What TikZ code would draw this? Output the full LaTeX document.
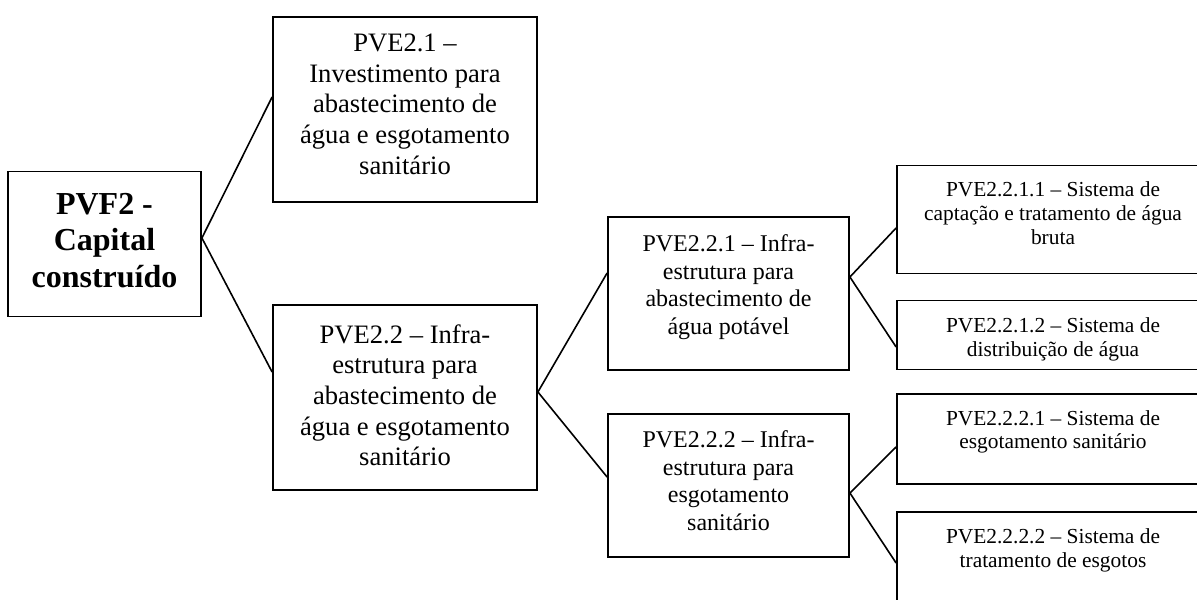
\documentclass[tikz,border=0pt]{standalone}
\usepackage{fontspec}
\setmainfont{Liberation Serif}
\usetikzlibrary{positioning}

\begin{document}
\begin{tikzpicture}[x=0.5pt, y=-0.5pt,
	box/.style={draw, line width=0.9pt, inner sep=0pt},
	txt/.style={align=center, anchor=north, inner sep=0pt},
	link/.style={line width=0.8pt}]

	\useasboundingbox (0,0) rectangle (1197,599);

	% boxes
	\node[box, minimum width=96.5pt, minimum height=72.5pt] (pvf2) at (104.5,244) {};
	\node[box, minimum width=132pt, minimum height=92.5pt] (pve21) at (405,109.5) {};
	\node[box, minimum width=132pt, minimum height=92.5pt] (pve22) at (405,397.5) {};
	\node[box, minimum width=120.5pt, minimum height=76.5pt] (pve221) at (728.5,293.5) {};
	\node[box, minimum width=120.5pt, minimum height=71.5pt] (pve222) at (728.5,485.5) {};
	\node[box, minimum width=156pt, minimum height=54pt] (pve2211) at (1053,219.5) {};
	\node[box, minimum width=156pt, minimum height=34.5pt] (pve2212) at (1053,335) {};
	\node[box, minimum width=156pt, minimum height=45pt] (pve2221) at (1053,439) {};
	\node[box, minimum width=156pt, minimum height=48pt] (pve2222) at (1053,560) {};

	% texts
	\node[txt, font=\fontsize{16}{18.4}\selectfont\bfseries] at ([yshift=-11pt]pvf2.north) {PVF2 -\\Capital\\construído};
	\node[txt, font=\fontsize{13.3}{15.3}\selectfont] at ([yshift=-8.8pt]pve21.north) {PVE2.1 –\\Investimento para\\abastecimento de\\água e esgotamento\\sanitário};
	\node[txt, font=\fontsize{13.3}{15.3}\selectfont] at ([yshift=-10pt]pve22.north) {PVE2.2 – Infra-\\estrutura para\\abastecimento de\\água e esgotamento\\sanitário};
	\node[txt, font=\fontsize{12}{13.8}\selectfont] at ([yshift=-9pt]pve221.north) {PVE2.2.1 – Infra-\\estrutura para\\abastecimento de\\água potável};
	\node[txt, font=\fontsize{12}{13.8}\selectfont] at ([yshift=-8.5pt]pve222.north) {PVE2.2.2 – Infra-\\estrutura para\\esgotamento\\sanitário};
	\node[txt, font=\fontsize{10.7}{11.8}\selectfont] at ([yshift=-8.5pt]pve2211.north) {PVE2.2.1.1 – Sistema de\\captação e tratamento de água\\bruta};
	\node[txt, font=\fontsize{10.7}{11.8}\selectfont] at ([yshift=-8.8pt]pve2212.north) {PVE2.2.1.2 – Sistema de\\distribuição de água};
	\node[txt, font=\fontsize{10.7}{11.8}\selectfont] at ([yshift=-8.5pt]pve2221.north) {PVE2.2.2.1 – Sistema de\\esgotamento sanitário};
	\node[txt, font=\fontsize{10.7}{11.8}\selectfont] at ([yshift=-8.8pt]pve2222.north) {PVE2.2.2.2 – Sistema de\\tratamento de esgotos};

	% connectors
	\draw[link] ([yshift=3pt]pvf2.east) -- ([yshift=6.25pt]pve21.west);
	\draw[link] ([yshift=3pt]pvf2.east) -- ([yshift=12.75pt]pve22.west);
	\draw[link] ([yshift=2.75pt]pve22.east) -- ([yshift=10.25pt]pve221.west);
	\draw[link] ([yshift=2.75pt]pve22.east) -- ([yshift=4.25pt]pve222.west);
	\draw[link] ([yshift=8.25pt]pve221.east) -- ([yshift=-4.25pt]pve2211.west);
	\draw[link] ([yshift=8.25pt]pve221.east) -- ([yshift=-6pt]pve2212.west);
	\draw[link] ([yshift=-3.75pt]pve222.east) -- ([yshift=-4pt]pve2221.west);
	\draw[link] ([yshift=-3.75pt]pve222.east) -- ([yshift=-1.5pt]pve2222.west);
\end{tikzpicture}
\end{document}
